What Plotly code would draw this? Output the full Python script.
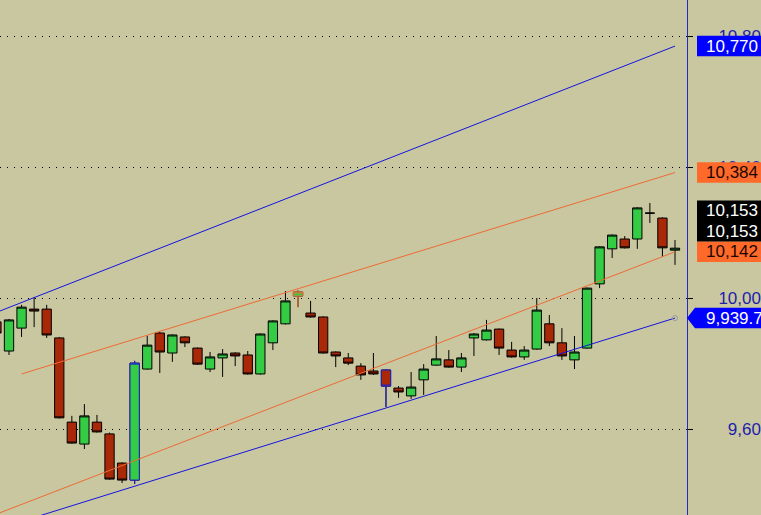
import plotly.graph_objects as go

# ---------------- data ----------------
bars = list(range(55))
opens = [9928, 9839, 9909, 9967, 9967, 9879, 9622, 9555, 9622, 9586,
         9497, 9445, 9784, 9894, 9833, 9882, 9848, 9784, 9818, 9833,
         9827, 9769, 9864, 9922, 10007, 9955, 9943, 9836, 9818, 9793,
         9778, 9781, 9726, 9702, 9751, 9796, 9812, 9790, 9879, 9873,
         9906, 9842, 9821, 9845, 9922, 9864, 9812, 9848, 10044, 10151,
         10181, 10181, 10260, 10245, 10147]
highs = [9930, 9937, 9980, 10004, 9980, 9882, 9641, 9677, 9644, 9590,
         9499, 9809, 9885, 9897, 9890, 9884, 9850, 9836, 9845, 9835,
         9839, 9893, 9933, 10022, 10024, 9992, 9945, 9838, 9833, 9802,
         9833, 9783, 9732, 9775, 9799, 9885, 9842, 9833, 9894, 9934,
         9908, 9867, 9854, 10001, 9949, 9909, 9885, 10033, 10159, 10195,
         10190, 10278, 10291, 10247, 10178]
lows = [9892, 9827, 9882, 9912, 9879, 9633, 9556, 9540, 9590, 9446,
        9436, 9433, 9782, 9772, 9806, 9851, 9797, 9775, 9760, 9793,
        9767, 9767, 9842, 9920, 9973, 9941, 9831, 9790, 9796, 9751,
        9766, 9668, 9696, 9693, 9705, 9794, 9788, 9775, 9824, 9871,
        9827, 9819, 9812, 9843, 9854, 9812, 9784, 9846, 10031, 10123,
        10152, 10151, 10230, 10126, 10102]
closes = [9894, 9934, 9973, 9961, 9888, 9635, 9558, 9641, 9592, 9448,
          9445, 9802, 9857, 9836, 9888, 9864, 9799, 9821, 9830, 9824,
          9769, 9891, 9931, 9992, 10019, 9943, 9833, 9824, 9802, 9766,
          9769, 9732, 9714, 9729, 9784, 9815, 9790, 9818, 9891, 9903,
          9848, 9821, 9842, 9964, 9864, 9824, 9836, 10031, 10157, 10193,
          10154, 10276, 10260, 10154, 10153]

upper_blue_x = [0, 54]
upper_blue_y = [9957, 10770]
upper_orange_x = [2, 54]
upper_orange_y = [9769, 10384]
lower_orange_x = [0, 54]
lower_orange_y = [9341, 10142]
lower_blue_x = [0, 54]
lower_blue_y = [9295, 9939.7]

tick_vals = [9600, 10000, 10400, 10800]
tick_text = ["\u20079,600", "10,000", "10,400", "10,800"]

highlight_blue = [11, 31]
highlight_orange = [24]

# tags: text, value, slot offset (in label heights), bg, fg
tags = [
    ("10,770", 10770, 0, "#0000FF", "white"),
    ("10,384", 10384, 0, "#FF6A2A", "#1a0800"),
    ("10,142", 10142, 0, "#FF6A2A", "#1a0800"),
    ("10,153", 10142, 1, "#000000", "white"),
    ("10,153", 10142, 2, "#000000", "white"),
]
arrow_tag = ("9,939.7", 9939.7, "#0000FF", "white")

# ---------------- styling ----------------
W, H = 761, 515
PLOT_W = 687
Y_RANGE = [9338.4, 10910.7]
X_RANGE = [0.284, 54.955]
BG = "#C9C7A0"
GREEN = "#33CC44"
RED = "#A82808"
BLUE = "#1414E0"
ORANGE = "#EE6A35"
FONT = "Arial, Liberation Sans, sans-serif"

units_per_px = (Y_RANGE[1] - Y_RANGE[0]) / H
slot_h = 20.5 * units_per_px
half_h = slot_h / 2

fig = go.Figure()

fig.add_trace(go.Candlestick(
    x=bars, open=opens, high=highs, low=lows, close=closes,
    increasing=dict(fillcolor=GREEN, line=dict(color="black", width=1)),
    decreasing=dict(fillcolor=RED, line=dict(color="black", width=1)),
    whiskerwidth=0, hoverinfo="skip", showlegend=False))

for idxs, col in ((highlight_blue, "#2020D0"), (highlight_orange, ORANGE)):
    for i in idxs:
        fig.add_trace(go.Candlestick(
            x=[bars[i]], open=[opens[i]], high=[highs[i]], low=[lows[i]], close=[closes[i]],
            increasing=dict(fillcolor=GREEN, line=dict(color=col, width=1)),
            decreasing=dict(fillcolor=RED, line=dict(color=col, width=1)),
            whiskerwidth=0, hoverinfo="skip", showlegend=False))

for xs, ys, col in ((upper_blue_x, upper_blue_y, BLUE),
                    (upper_orange_x, upper_orange_y, ORANGE),
                    (lower_orange_x, lower_orange_y, ORANGE),
                    (lower_blue_x, lower_blue_y, BLUE)):
    fig.add_trace(go.Scatter(x=xs, y=ys, mode="lines", line=dict(color=col, width=1),
                             hoverinfo="skip", showlegend=False))

fig.add_trace(go.Scatter(x=[lower_blue_x[-1]], y=[lower_blue_y[-1]], mode="markers",
                         marker=dict(symbol="circle-open", size=5, color="#9a9a9a"),
                         hoverinfo="skip", showlegend=False))

shapes = []
annotations = []
box_x0 = 697 / PLOT_W
text_x = 706 / PLOT_W
for text, v, slot, bg, fg in tags:
    yc = v + slot * slot_h
    shapes.append(dict(type="rect", xref="paper", yref="y", x0=box_x0, x1=1.2,
                       y0=yc - half_h, y1=yc + half_h, fillcolor=bg, line=dict(width=0),
                       layer="above"))
    annotations.append(dict(xref="paper", yref="y", x=text_x, y=yc, text=text,
                            showarrow=False, xanchor="left", yanchor="middle",
                            font=dict(family=FONT, size=17, color=fg),
                            borderpad=0, borderwidth=0))

text, v, bg, fg = arrow_tag
tip = 1.0
rx = 695 / PLOT_W
path = (f"M {tip},{v} L {rx},{v + half_h} L 1.2,{v + half_h} "
        f"L 1.2,{v - half_h} L {rx},{v - half_h} Z")
shapes.append(dict(type="path", xref="paper", yref="y", path=path, fillcolor=bg,
                   line=dict(width=0), layer="above"))
annotations.append(dict(xref="paper", yref="y", x=text_x, y=v, text=text,
                        showarrow=False, xanchor="left", yanchor="middle",
                        font=dict(family=FONT, size=17, color=fg),
                        borderpad=0, borderwidth=0))

fig.update_layout(
    width=W, height=H,
    margin=dict(l=0, r=W - PLOT_W, t=0, b=0, pad=0, autoexpand=False),
    paper_bgcolor=BG, plot_bgcolor=BG,
    boxgap=0.26, boxgroupgap=0,
    showlegend=False,
    shapes=shapes, annotations=annotations,
    xaxis=dict(range=X_RANGE, visible=False, showgrid=False, zeroline=False,
               rangeslider=dict(visible=False), fixedrange=True),
    yaxis=dict(range=Y_RANGE, side="right", tickvals=tick_vals, ticktext=tick_text,
               showgrid=True, gridcolor="black", gridwidth=1, griddash="1px,6px",
               showline=True, linecolor="#2828C8", linewidth=1,
               ticks="outside", ticklen=5, tickcolor="black", tickwidth=1,
               tickfont=dict(family=FONT, size=17, color="#1E1EAA"),
               ticklabelstandoff=22, zeroline=False, fixedrange=True),
)

fig.write_html(
    "out.html",
    config={"displayModeBar": False, "staticPlot": True},
    post_script="document.body.style.margin='0';document.body.style.overflow='hidden';",
)
